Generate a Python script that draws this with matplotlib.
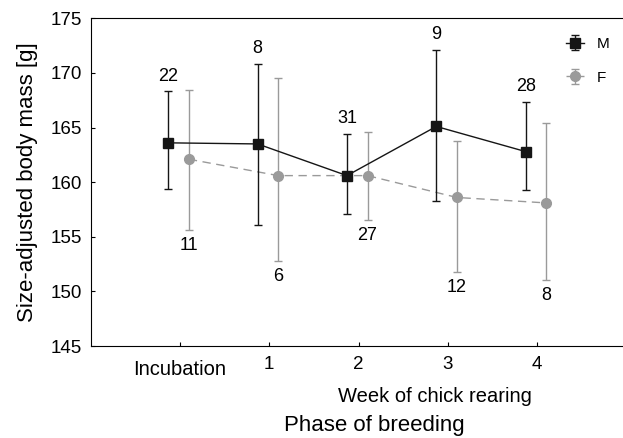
import matplotlib
matplotlib.use("Agg")
import matplotlib.pyplot as plt
import matplotlib.transforms as mtransforms

plt.rcParams['font.family'] = ['Liberation Sans', 'DejaVu Sans']

# data
phases = ["Incubation", "1", "2", "3", "4"]
m_mean = [163.6, 163.5, 160.6, 165.1, 162.8]
m_upper = [168.3, 170.8, 164.4, 172.1, 167.3]
m_lower = [159.4, 156.1, 157.1, 158.3, 159.3]
m_n = [22, 8, 31, 9, 28]
f_mean = [162.1, 160.6, 160.6, 158.6, 158.1]
f_upper = [168.4, 169.5, 164.6, 163.8, 165.4]
f_lower = [155.6, 152.8, 156.5, 151.8, 151.0]
f_n = [11, 6, 27, 12, 8]

fig = plt.figure(figsize=(6.23, 4.38), dpi=100)
ax = fig.add_axes([0.1454, 0.2100, 0.8546, 0.7482])

xs = list(range(len(phases)))
xm = [x - 0.13 for x in xs]
xf = [x + 0.10 for x in xs]

m_err = [[m - lo for m, lo in zip(m_mean, m_lower)], [hi - m for m, hi in zip(m_mean, m_upper)]]
f_err = [[m - lo for m, lo in zip(f_mean, f_lower)], [hi - m for m, hi in zip(f_mean, f_upper)]]

ax.errorbar(xf, f_mean, yerr=f_err, color='#9a9a9a', ecolor='#9a9a9a', marker='o',
            markersize=7, linestyle=(0, (6, 4)), linewidth=1, elinewidth=1,
            capsize=3, capthick=1, label='F', zorder=2)
ax.errorbar(xm, m_mean, yerr=m_err, color='#151515', ecolor='#151515', marker='s',
            markersize=7, linestyle='-', linewidth=1, elinewidth=1,
            capsize=3, capthick=1, label='M', zorder=3)

for x, hi, n in zip(xm, m_upper, m_n):
    ax.annotate(str(n), (x, hi), xytext=(0, 5), textcoords='offset points',
                ha='center', va='bottom', fontsize=13)
for x, lo, n in zip(xf, f_lower, f_n):
    ax.annotate(str(n), (x, lo), xytext=(0, -5), textcoords='offset points',
                ha='center', va='top', fontsize=13)

ax.set_xlim(-1, 4.96)
ax.set_ylim(145, 175)
ax.set_yticks([145, 150, 155, 160, 165, 170, 175])
ax.set_xticks(xs)
ax.set_xticklabels([''] + phases[1:], fontsize=13.5)
ax.tick_params(axis='y', labelsize=13.5, direction='in', length=3, pad=6.5)
ax.tick_params(axis='x', direction='in', length=3, pad=7)
ax.spines['right'].set_visible(False)

trans = mtransforms.blended_transform_factory(ax.transData, fig.transFigure)
ax.text(0, 0.1568, phases[0], transform=trans, ha='center', va='center', fontsize=14.5)

ax.set_ylabel('Size-adjusted body mass [g]', fontsize=16, labelpad=9)
fig.text(0.6988, 0.0943, 'Week of chick rearing', ha='center', va='center', fontsize=14.5)
fig.text(0.6006, 0.028, 'Phase of breeding', ha='center', va='center', fontsize=16)

handles, labels = ax.get_legend_handles_labels()
ax.legend(handles[::-1], labels[::-1], loc='upper right', frameon=False, fontsize=11,
          handlelength=1.2, labelspacing=1.3, bbox_to_anchor=(1.0, 0.985))

fig.savefig('out.png', dpi=100)
